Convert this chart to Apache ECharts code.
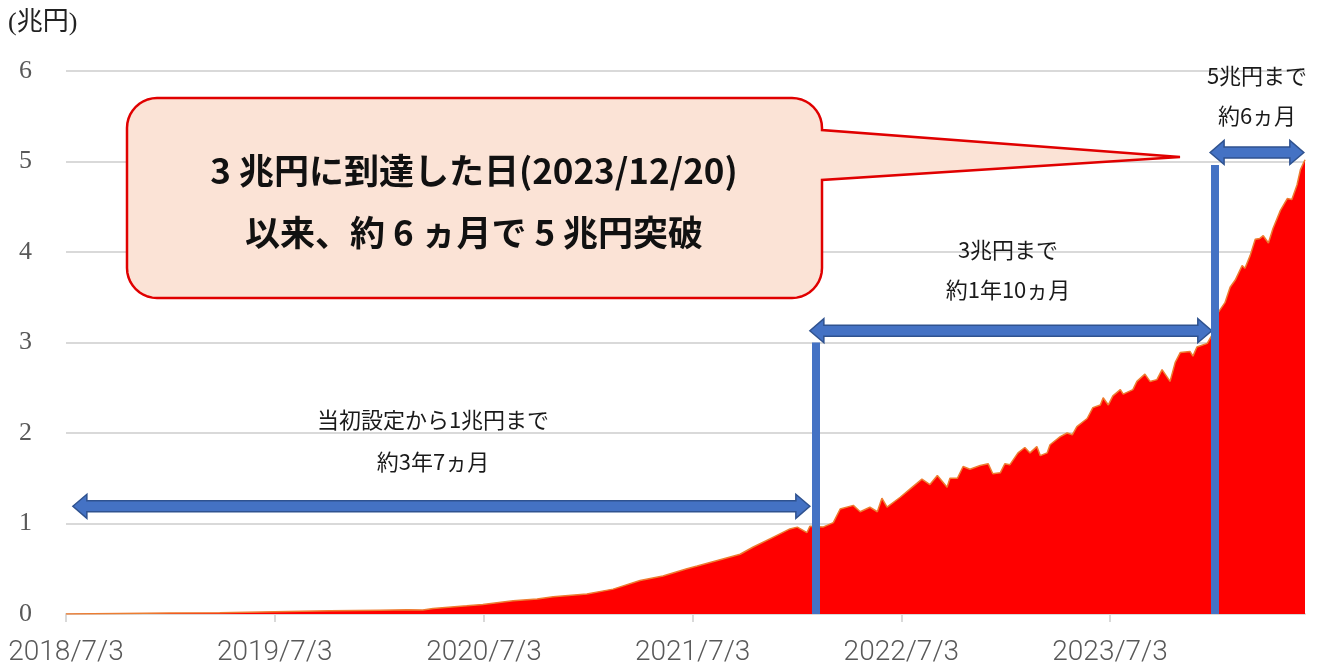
<!DOCTYPE html>
<html>
<head>
<meta charset="utf-8">
<script src="https://cdn.jsdelivr.net/npm/echarts@6/dist/echarts.min.js"></script>
<style>
  html, body { margin: 0; padding: 0; background: #fff; }
  #main { width: 1318px; height: 667px; }
</style>
</head>
<body>
<div id="main"></div>
<script>
// net assets (兆円)
var dates = [
  '2018-07-03','2018-10-05','2019-01-01','2019-03-29','2019-07-03','2019-10-08','2020-01-03','2020-02-20','2020-03-18','2020-04-05',
  '2020-06-03','2020-07-01','2020-08-23','2020-10-04','2020-11-01','2020-12-30','2021-02-14','2021-04-02','2021-05-12','2021-06-23',
  '2021-07-11','2021-08-20','2021-09-24','2021-10-17','2021-11-15','2021-12-20','2022-01-02','2022-01-19','2022-01-24','2022-02-16',
  '2022-03-06','2022-03-18','2022-04-10','2022-04-22','2022-05-09','2022-05-22','2022-05-30','2022-06-08','2022-07-01','2022-07-18',
  '2022-08-08','2022-08-22','2022-09-04','2022-09-21','2022-09-26','2022-10-09','2022-10-19','2022-10-31','2022-11-18','2022-12-02',
  '2022-12-10','2022-12-23','2022-12-31','2023-01-09','2023-01-23','2023-02-04','2023-02-13','2023-02-25','2023-03-03','2023-03-15',
  '2023-03-20','2023-04-07','2023-04-19','2023-04-28','2023-05-06','2023-05-24','2023-06-03','2023-06-16','2023-06-21','2023-06-30',
  '2023-07-08','2023-07-21','2023-07-26','2023-08-12','2023-08-19','2023-09-02','2023-09-11','2023-09-23','2023-10-02','2023-10-16',
  '2023-10-25','2023-11-03','2023-11-20','2023-11-25','2023-12-02','2023-12-20','2023-12-28','2024-01-08','2024-01-20','2024-01-29',
  '2024-02-07','2024-02-19','2024-02-24','2024-03-04','2024-03-13','2024-03-21','2024-03-27','2024-04-05','2024-04-13','2024-04-26',
  '2024-05-08','2024-05-16','2024-05-25','2024-05-31','2024-06-08'
];
var assets = [
  0.00, 0.005, 0.01, 0.015, 0.025, 0.035, 0.042, 0.046, 0.045, 0.062,
  0.09, 0.105, 0.146, 0.165, 0.19, 0.22, 0.275, 0.37, 0.42, 0.50,
  0.53, 0.60, 0.66, 0.74, 0.83, 0.94, 0.96, 0.90, 0.97, 0.96,
  1.01, 1.16, 1.20, 1.13, 1.18, 1.13, 1.28, 1.18, 1.29, 1.38,
  1.49, 1.43, 1.53, 1.40, 1.50, 1.50, 1.63, 1.60, 1.64, 1.66,
  1.55, 1.56, 1.66, 1.65, 1.78, 1.84, 1.78, 1.85, 1.75, 1.78,
  1.87, 1.96, 2.00, 1.98, 2.07, 2.16, 2.28, 2.31, 2.39, 2.31,
  2.41, 2.48, 2.43, 2.48, 2.57, 2.65, 2.57, 2.59, 2.70, 2.57,
  2.78, 2.89, 2.90, 2.85, 2.95, 2.99, 3.08, 3.33, 3.44, 3.61,
  3.69, 3.85, 3.82, 3.96, 4.14, 4.15, 4.18, 4.10, 4.26, 4.46,
  4.59, 4.58, 4.74, 4.91, 5.02
];
var tickDates = ['2018-07-03', '2019-07-03', '2020-07-03', '2021-07-03', '2022-07-03', '2023-07-03'];
var yTicks = [0, 1, 2, 3, 4, 5, 6];

// annotations: vertical markers [date, top value], arrows [from, to, value]
var markers = [['2022-02-04', 3.0], ['2024-01-03', 4.96]];
var arrows = [
  ['2018-07-15', '2022-01-24', 1.19],
  ['2022-01-24', '2023-12-28', 3.13],
  ['2023-12-25', '2024-06-06', 5.10]
];
var notes = [
  ['当初設定から1兆円まで', 433, 420],
  ['約3年7ヵ月', 433, 462],
  ['3兆円まで', 1008, 250],
  ['約1年10ヵ月', 1008, 290],
  ['5兆円まで', 1257, 76],
  ['約6ヵ月', 1257, 116]
];

function ts(s) {
  var p = s.split('-');
  return new Date(+p[0], +p[1] - 1, +p[2]).getTime();
}

var tickValues = tickDates.map(ts);
var seriesData = dates.map(function (d, i) { return [ts(d), assets[i]]; });

var chart = echarts.init(document.getElementById('main'));
chart.setOption({
  animation: false,
  grid: { left: 66, right: 13, top: 71, bottom: 51 },
  xAxis: {
    type: 'value',
    min: ts(dates[0]),
    max: ts(dates[dates.length - 1]),
    axisLine: { lineStyle: { color: '#D9D9D9', width: 2 } },
    axisTick: { show: true, length: 8, lineStyle: { color: '#D9D9D9', width: 2 }, customValues: tickValues },
    splitLine: { show: false },
    axisLabel: {
      customValues: tickValues,
      margin: 25,
      color: '#595959',
      fontSize: 28,
      fontFamily: 'Roboto',
      fontWeight: 300,
      formatter: function (v) {
        var d = new Date(v);
        return d.getFullYear() + '/' + (d.getMonth() + 1) + '/' + d.getDate();
      }
    }
  },
  yAxis: {
    type: 'value',
    min: yTicks[0],
    max: yTicks[yTicks.length - 1],
    interval: 1,
    axisLine: { show: false },
    axisTick: { show: false },
    splitLine: { lineStyle: { color: '#D9D9D9', width: 2 } },
    axisLabel: { margin: 34, color: '#595959', fontSize: 26, fontFamily: 'Liberation Serif' }
  },
  series: [{
    type: 'line',
    data: seriesData,
    showSymbol: false,
    smooth: false,
    lineStyle: { color: '#ED7D31', width: 1.5 },
    areaStyle: { color: '#FF0000', opacity: 1 },
    markLine: {
      silent: true,
      symbol: 'none',
      label: { show: false },
      lineStyle: { color: '#4472C4', width: 8, type: 'solid' },
      data: markers.map(function (m) {
        return [{ coord: [ts(m[0]), 0] }, { coord: [ts(m[0]), m[1]] }];
      })
    }
  }]
});

// block arrows
function blockArrow(a) {
  var p1 = chart.convertToPixel({ gridIndex: 0 }, [ts(a[0]), a[2]]);
  var p2 = chart.convertToPixel({ gridIndex: 0 }, [ts(a[1]), a[2]]);
  var x1 = p1[0], x2 = p2[0], y = p1[1];
  var h = 5.5, H = 12, L = 14;
  return {
    type: 'polygon',
    silent: true,
    shape: { points: [
      [x1, y], [x1 + L, y - H], [x1 + L, y - h], [x2 - L, y - h], [x2 - L, y - H],
      [x2, y], [x2 - L, y + H], [x2 - L, y + h], [x1 + L, y + h], [x1 + L, y + H]
    ] },
    style: { fill: '#4472C4', stroke: '#2F528F', lineWidth: 1.5 }
  };
}

// speech bubble outline: rounded box with a wedge on the right
function arcPts(cx, cy, r, a0, a1) {
  var pts = [];
  for (var i = 0; i <= 10; i++) {
    var a = a0 + (a1 - a0) * i / 10;
    pts.push([cx + r * Math.cos(a), cy + r * Math.sin(a)]);
  }
  return pts;
}
var r = 30, bx1 = 127, bx2 = 822, by1 = 98, by2 = 298;
var bubble = [].concat(
  arcPts(bx1 + r, by1 + r, r, Math.PI, Math.PI * 1.5),
  arcPts(bx2 - r, by1 + r, r, Math.PI * 1.5, Math.PI * 2),
  [[bx2, 130], [1180, 157], [bx2, 180]],
  arcPts(bx2 - r, by2 - r, r, 0, Math.PI * 0.5),
  arcPts(bx1 + r, by2 - r, r, Math.PI * 0.5, Math.PI)
);

var elements = arrows.map(blockArrow);
notes.forEach(function (n) {
  elements.push({
    type: 'text', silent: true, x: n[1], y: n[2],
    style: { text: n[0], fill: '#1a1a1a', font: '22px "Noto Sans CJK JP"', align: 'center', verticalAlign: 'middle' }
  });
});
elements.push({
  type: 'polygon', silent: true,
  shape: { points: bubble },
  style: { fill: '#FBE3D6', stroke: '#E00000', lineWidth: 2.5 }
});
elements.push({
  type: 'text', silent: true, x: 474, y: 171,
  style: { text: '3 兆円に到達した日(2023/12/20)', fill: '#111', font: 'bold 35px "Noto Sans CJK JP"', align: 'center', verticalAlign: 'middle' }
});
elements.push({
  type: 'text', silent: true, x: 474, y: 233,
  style: { text: '以来、約 6 ヵ月で 5 兆円突破', fill: '#111', font: 'bold 35px "Noto Sans CJK JP"', align: 'center', verticalAlign: 'middle' }
});
elements.push({
  type: 'text', silent: true, x: 8, y: 23,
  style: { text: '(兆円)', fill: '#222', font: '26px "Liberation Serif", "Noto Sans CJK JP"', align: 'left', verticalAlign: 'middle' }
});

chart.setOption({ graphic: { elements: elements } });
</script>
</body>
</html>
